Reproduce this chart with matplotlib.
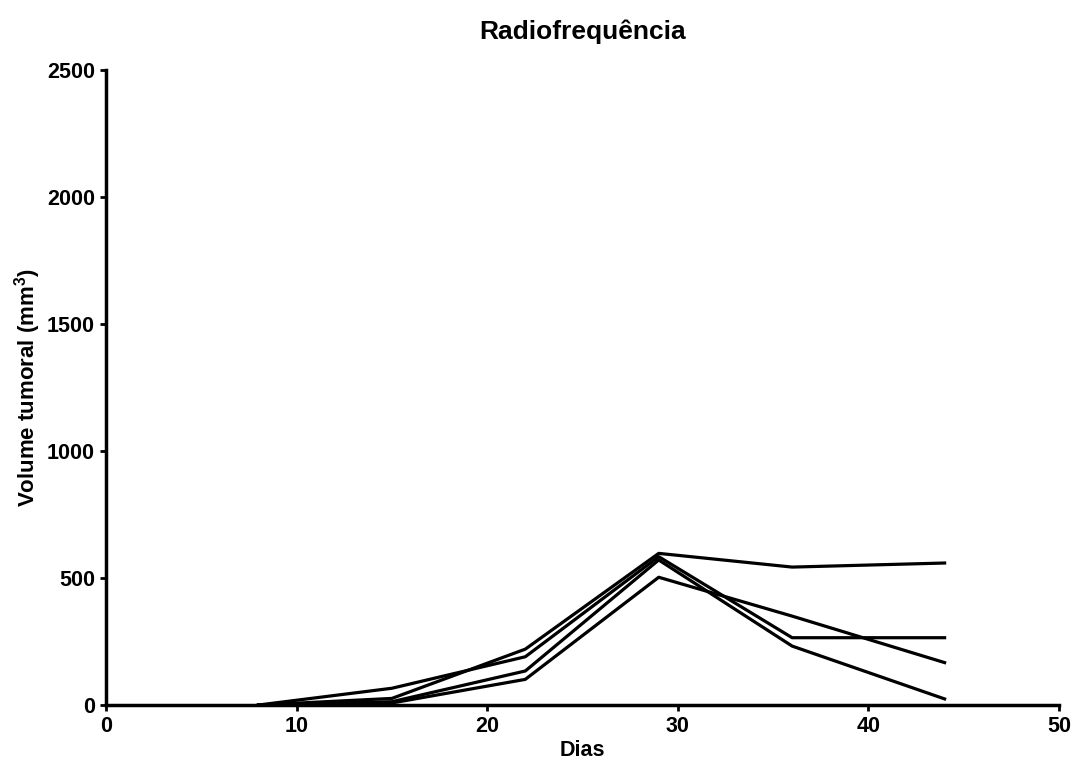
import matplotlib
matplotlib.use("Agg")
import matplotlib.pyplot as plt

plt.rcParams['font.family'] = ['Liberation Sans', 'DejaVu Sans']
plt.rcParams['font.weight'] = 'bold'
plt.rcParams['mathtext.fontset'] = 'custom'
plt.rcParams['mathtext.bf'] = 'Liberation Sans:bold'
plt.rcParams['mathtext.rm'] = 'Liberation Sans:bold'

dias = [8, 15, 22, 29, 36, 44]
serie_a = [0, 26, 220, 597, 543, 559]
serie_b = [0, 66, 190, 584, 265, 265]
serie_c = [0, 13, 134, 571, 232, 24]
serie_d = [0, 8, 101, 503, 350, 167]
xticks = [0, 10, 20, 30, 40, 50]
yticks = [0, 500, 1000, 1500, 2000, 2500]

fig = plt.figure(figsize=(10.74, 7.69), dpi=100)
ax = fig.add_axes([0.0987, 0.0832, 0.8873, 0.8258])
for s in (serie_a, serie_b, serie_c, serie_d):
    ax.plot(dias, s, color='black', lw=2.3)

ax.set_xlim(0, 50)
ax.set_ylim(0, 2500)
ax.set_xticks(xticks)
ax.set_yticks(yticks)
for sp in ('top', 'right'):
    ax.spines[sp].set_visible(False)
for sp in ('left', 'bottom'):
    ax.spines[sp].set_linewidth(2.5)
ax.tick_params(direction='out', length=4, width=2, labelsize=15.5, pad=4)
for lab in ax.get_xticklabels() + ax.get_yticklabels():
    lab.set_fontweight('bold')
ax.set_xlabel('Dias', fontsize=15.5, fontweight='bold', labelpad=2)
ax.set_ylabel(r'Volume tumoral (mm$^{\mathbf{3}}$)', fontsize=16, fontweight='bold', labelpad=3)
ax.set_title('Radiofrequência', fontsize=19, fontweight='bold', pad=22)

fig.savefig('out.png', dpi=100)
